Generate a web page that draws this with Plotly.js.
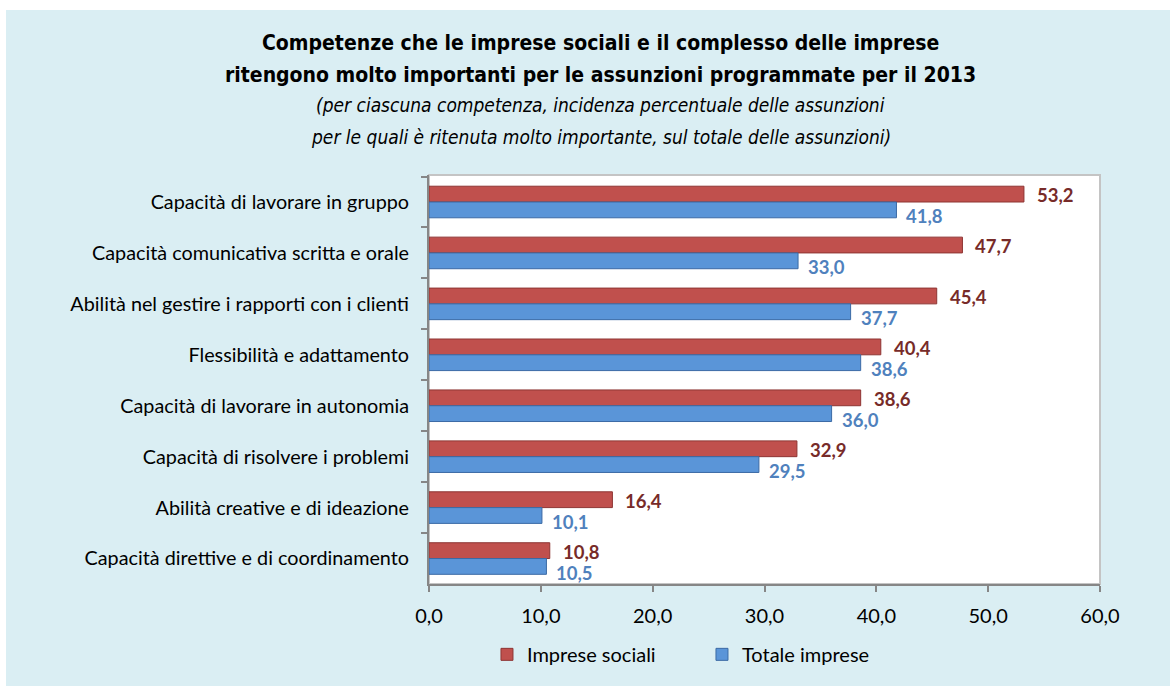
<!DOCTYPE html>
<html>
<head>
<meta charset="utf-8">
<script src="https://cdn.plot.ly/plotly-3.0.1.min.js"></script>
<style>
html,body{margin:0;padding:0;background:#ffffff;}
#chart{position:absolute;left:6px;top:10px;width:1164px;height:676px;}
</style>
</head>
<body>
<div id="chart"></div>
<script>
const categories = [
  "Capacità di lavorare in gruppo",
  "Capacità comunicativa scritta e orale",
  "Abilità nel gestire i rapporti con i clienti",
  "Flessibilità e adattamento",
  "Capacità di lavorare in autonomia",
  "Capacità di risolvere i problemi",
  "Abilità creative e di ideazione",
  "Capacità direttive e di coordinamento"
];
const impreseSociali = [53.2, 47.7, 45.4, 40.4, 38.6, 32.9, 16.4, 10.8];
const totaleImprese = [41.8, 33.0, 37.7, 38.6, 36.0, 29.5, 10.1, 10.5];
const xTicks = [0, 10, 20, 30, 40, 50, 60];

const fmt = v => v.toFixed(1).replace('.', ',');
const labelFont = "Lato, 'Open Sans', sans-serif";
const titleFont = "'DejaVu Sans Condensed', 'Liberation Sans Narrow', sans-serif";

const traces = [
  {
    type: 'bar', orientation: 'h', name: 'Imprese sociali',
    y: categories, x: impreseSociali,
    marker: {color: '#c0504d', line: {color: '#8e3533', width: 1}},
    hoverinfo: 'x+y'
  },
  {
    type: 'bar', orientation: 'h', name: 'Totale imprese',
    y: categories, x: totaleImprese,
    marker: {color: '#5a95d8', line: {color: '#3b6aa5', width: 1}},
    hoverinfo: 'x+y'
  }
];

const valueLabels = [];
categories.forEach((c, i) => {
  valueLabels.push({xref: 'x', yref: 'y', x: impreseSociali[i], y: c, showarrow: false,
    xanchor: 'left', yanchor: 'middle', xshift: 11, yshift: 7, text: '<b>' + fmt(impreseSociali[i]) + '</b>',
    font: {family: labelFont, size: 18.5, color: '#772b29'}});
  valueLabels.push({xref: 'x', yref: 'y', x: totaleImprese[i], y: c, showarrow: false,
    xanchor: 'left', yanchor: 'middle', xshift: 8, yshift: -14, text: '<b>' + fmt(totaleImprese[i]) + '</b>',
    font: {family: labelFont, size: 18.5, color: '#4f81bd'}});
});

const titleLines = [
  {text: '<b>Competenze che le imprese sociali e il complesso delle imprese</b>', y: 132, size: 21},
  {text: '<b>ritengono molto importanti per le assunzioni programmate per il 2013</b>', y: 100, size: 21},
  {text: '<i>(per ciascuna competenza, incidenza percentuale delle assunzioni</i>', y: 70, size: 19},
  {text: '<i>per le quali è ritenuta molto importante, sul totale delle assunzioni)</i>', y: 38, size: 19}
].map(t => ({xref: 'paper', yref: 'paper', x: 0.5, xanchor: 'center', showarrow: false,
  y: 1, yanchor: 'middle', yshift: t.y, xshift: -164, text: t.text,
  font: {family: titleFont, size: t.size, color: '#000'}}));

const layout = {
  width: 1164, height: 676,
  paper_bgcolor: '#daeef3', plot_bgcolor: '#ffffff',
  margin: {l: 423, r: 70, t: 165, b: 98},
  separators: ',.',
  barmode: 'group', bargap: 0.38, bargroupgap: 0,
  showlegend: true,
  legend: {orientation: 'h', x: 0.0864, xanchor: 'left', y: -0.172, yanchor: 'middle',
           font: {family: labelFont, size: 20, color: '#000'}, bgcolor: 'rgba(0,0,0,0)',
           traceorder: 'normal', itemwidth: 30, entrywidth: 170, entrywidthmode: 'pixels'},
  xaxis: {
    range: [0, 60], tickvals: xTicks, tickformat: '.1f',
    ticks: 'outside', ticklen: 6, tickcolor: '#868686', tickwidth: 2,
    showline: true, linecolor: '#868686', linewidth: 2, mirror: false,
    showgrid: false, zeroline: false, ticklabelstandoff: 7,
    tickfont: {family: labelFont, size: 20, color: '#000'}
  },
  yaxis: {
    type: 'category', autorange: 'reversed',
    tickson: 'boundaries', ticks: 'outside', ticklen: 6, tickcolor: '#868686', tickwidth: 2,
    showline: true, linecolor: '#868686', linewidth: 2,
    showgrid: false, zeroline: false, ticklabelstandoff: 14,
    tickfont: {family: labelFont, size: 19.8, color: '#000'}
  },
  shapes: [
    {type: 'rect', xref: 'paper', yref: 'paper', x0: 0, x1: 1, y0: 0, y1: 1,
     line: {color: '#c4c4c4', width: 2}, fillcolor: 'rgba(0,0,0,0)', layer: 'below'}
  ],
  annotations: titleLines.concat(valueLabels)
};

Plotly.newPlot('chart', traces, layout, {displayModeBar: false, staticPlot: true});
</script>
</body>
</html>
